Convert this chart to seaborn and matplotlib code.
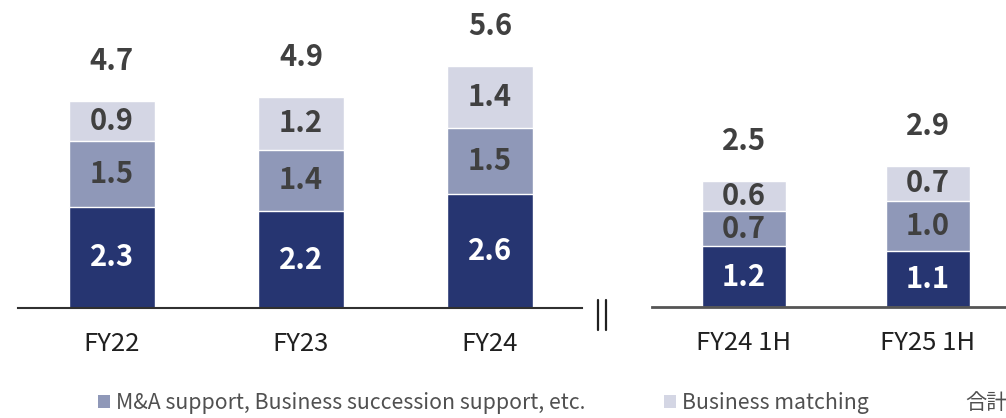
import matplotlib
matplotlib.use("Agg")
import matplotlib.pyplot as plt
import seaborn as sns
import pandas as pd
import numpy as np
from matplotlib.lines import Line2D
from matplotlib.patches import Patch

sns.set_theme(style="white")
plt.rcParams['font.family'] = ['Noto Sans CJK JP', 'DejaVu Sans']

# Data
left_periods = ["FY22", "FY23", "FY24"]
left_dark = [2.3, 2.2, 2.6]
left_mid = [1.5, 1.4, 1.5]
left_light = [0.9, 1.2, 1.4]
left_total = [4.7, 4.9, 5.6]

right_periods = ["FY24 1H", "FY25 1H"]
right_dark = [1.2, 1.1]
right_mid = [0.7, 1.0]
right_light = [0.6, 0.7]
right_total = [2.5, 2.9]

legend_labels = ["M&A support, Business succession support, etc.", "Business matching", "合計"]

C_DARK = "#263571"
C_MID = "#8F98B8"
C_LIGHT = "#D4D6E4"
TXT = "#404040"

fig = plt.figure(figsize=(10.06, 4.18), dpi=100)
W, H = 1006, 418
base_y = 308

def px_axes(x0, x1, y0, y1):
    return fig.add_axes([x0 / W, (H - y1) / H, (x1 - x0) / W, (y1 - y0) / H])

ax1 = px_axes(18, 582, 0, base_y)
ax2 = px_axes(652, 1006, 0, 307)

FS = 21

def draw(ax, periods, dark, mid, light, total, ymax, xlim, width):
    dark = np.array(dark); mid = np.array(mid); light = np.array(light)
    df = pd.DataFrame({"period": periods, "d": dark, "dm": dark + mid, "dml": dark + mid + light})
    sns.barplot(data=df, x="period", y="dml", color=C_LIGHT, width=width, ax=ax, saturation=1)
    sns.barplot(data=df, x="period", y="dm", color=C_MID, width=width, ax=ax, saturation=1)
    sns.barplot(data=df, x="period", y="d", color=C_DARK, width=width, ax=ax, saturation=1)
    for i in range(len(periods)):
        ax.text(i, dark[i] / 2, f"{dark[i]:.1f}", ha="center", va="center", color="white",
                fontsize=FS, fontweight="bold")
        ax.text(i, dark[i] + mid[i] / 2, f"{mid[i]:.1f}", ha="center", va="center", color=TXT,
                fontsize=FS, fontweight="bold")
        ax.text(i, dark[i] + mid[i] + light[i] / 2, f"{light[i]:.1f}", ha="center", va="center",
                color=TXT, fontsize=FS, fontweight="bold")
        top = dark[i] + mid[i] + light[i]
        ax.text(i, top + ymax * 40 / 308, f"{total[i]:.1f}", ha="center", va="center", color=TXT,
                fontsize=FS, fontweight="bold")
    ax.set_ylim(0, ymax)
    ax.set_xlim(*xlim)
    ax.set_xlabel(""); ax.set_ylabel("")
    ax.set_yticks([])
    for s in ["top", "right", "left"]:
        ax.spines[s].set_visible(False)
    ax.spines["bottom"].set_color("#303030")
    ax.spines["bottom"].set_linewidth(1.5)
    ax.tick_params(axis="x", length=0, pad=16.5, labelsize=18.5, labelcolor="#202020")
    ax.patch.set_alpha(0)

draw(ax1, left_periods, left_dark, left_mid, left_light, left_total, 308 / 44.0,
     (-0.497, 2.487), 0.455)
draw(ax2, right_periods, right_dark, right_mid, right_light, right_total, 307 / 50.5,
     (-0.5, 1.424), 0.457)
ax2.spines["bottom"].set_color("#555555")
ax2.spines["bottom"].set_linewidth(2)

# axis break marker
for xp in (598, 606):
    fig.add_artist(Line2D([xp / W, xp / W], [(H - 300) / H, (H - 330) / H],
                          color="#202020", lw=1.6))

handles = [Patch(facecolor=C_MID, edgecolor="none"),
           Patch(facecolor=C_LIGHT, edgecolor="none"),
           Line2D([], [], linestyle="none")]
leg = fig.legend(handles, legend_labels, loc="upper left", bbox_to_anchor=(98 / W, (H - 392) / H),
                 ncol=3, frameon=False, fontsize=15.3, handlelength=0.55, handleheight=0.55,
                 handletextpad=0.3, columnspacing=3.7, borderaxespad=0, borderpad=0)
for t in leg.get_texts():
    t.set_color("#505050")

fig.savefig("out.png", dpi=100)
